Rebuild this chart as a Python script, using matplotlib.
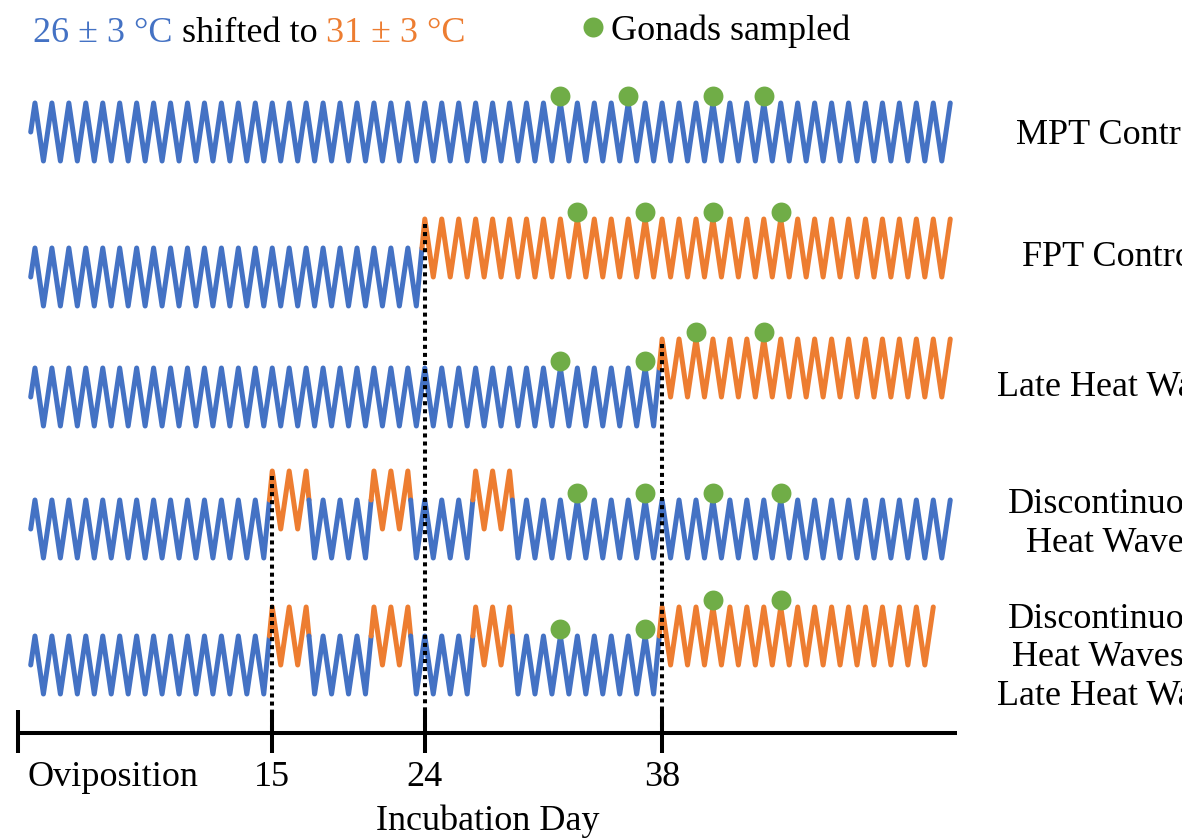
import matplotlib
matplotlib.use("Agg")
import matplotlib.pyplot as plt
from matplotlib.lines import Line2D

# ── Colours / fonts ─────────────────────────────────────────────────────────
BLUE = "#4472C4"
ORANGE = "#ED7D31"
GREEN = "#70AD47"
plt.rcParams["font.family"] = ["Liberation Serif", "DejaVu Serif"]
FS = 26

# ── Data ────────────────────────────────────────────────────────────────────
treatments = [
    "MPT Control",
    "FPT Control",
    "Late Heat Wave",
    "Discontinuous\nHeat Waves",
    "Discontinuous\nHeat Waves +\nLate Heat Wave",
]
# periods at 31 ± 3 °C, incubation days [start, end)
warm_periods = [
    [],
    [(24, 56)],
    [(38, 56)],
    [(15, 18), (21, 24), (27, 30)],
    [(15, 18), (21, 24), (27, 30), (38, 56)],
]
run_end = [55, 55, 55, 55, 54]
sample_days = [
    [32, 36, 41, 44],
    [33, 37, 41, 45],
    [32, 37, 40, 44],
    [33, 37, 41, 45],
    [32, 37, 41, 45],
]
tick_days = [0, 15, 24, 38]
tick_labels = ["Oviposition", "15", "24", "38"]
shift_days = [15, 24, 38]

# ── Layout (axes y units are pixels from top) ───────────────────────────────
ROW_MID = [132, 277, 397, 529, 665]
LABEL_Y = [135, 258, 388, 524, 658]
AMP = 29
AXIS_Y = 733
AXIS_END = 55.4
LW = 3.6


def is_warm(row, t):
    return any(s <= t <= e - 1 for s, e in warm_periods[row])


def zigzag(row):
    """Return list of (xs, ys, colour) polylines for one treatment row."""
    mid = ROW_MID[row]
    verts = [(0.75, 0.0, False)]
    t = 1.0
    while t <= run_end[row] + 1e-9:
        warm = is_warm(row, t)
        lvl = (AMP if t % 1 == 0 else -AMP) + (AMP if warm else 0)
        verts.append((t, lvl, warm))
        t += 0.5
    lines = []
    xs, ys, cur = [verts[0][0]], [mid - verts[0][1]], verts[0][2]
    for (t0, l0, w0), (t1, l1, w1) in zip(verts[:-1], verts[1:]):
        if w1 != cur:
            # split where the stroke crosses the top of the 26 °C band
            f = (AMP - l0) / (l1 - l0)
            ts = t0 + f * (t1 - t0)
            xs.append(ts)
            ys.append(mid - AMP)
            lines.append((xs, ys, ORANGE if cur else BLUE))
            xs, ys, cur = [ts], [mid - AMP], w1
        xs.append(t1)
        ys.append(mid - l1)
    lines.append((xs, ys, ORANGE if cur else BLUE))
    return lines


fig = plt.figure(figsize=(11.82, 8.4), dpi=100)
ax = fig.add_axes([0, 0, 1, 1])
px0, pxd = 18, 16.95
ax.set_xlim(-px0 / pxd, (1182 - px0) / pxd)
ax.set_ylim(840, 0)
ax.axis("off")

for r in range(len(treatments)):
    for xs, ys, c in zigzag(r):
        ax.plot(xs, ys, color=c, lw=LW, solid_joinstyle="round",
                solid_capstyle="round", zorder=2)
    # gonad sampling dots sit on top of the daily peaks
    dy = [ROW_MID[r] - AMP - (AMP if is_warm(r, d) else 0) - 7
          for d in sample_days[r]]
    ax.scatter(sample_days[r], dy, s=205, color=GREEN, zorder=4,
               linewidths=0)
    # labels run off the right edge, as in the original figure
    ax.text((1112 - px0) / pxd, LABEL_Y[r], treatments[r], ha="center",
            va="center", fontsize=FS, linespacing=1.22, color="black")

# dotted lines marking the temperature shifts
for d in shift_days:
    rows = [r for r in range(len(treatments))
            if any(s == d for s, _ in warm_periods[r])]
    top = ROW_MID[rows[0]] - 2 * AMP + 5
    ax.vlines(d, top, AXIS_Y, colors="black", lw=2.9,
              linestyles=(0, (1, 1)), zorder=3)

# ── Incubation axis ─────────────────────────────────────────────────────────
ax.hlines(AXIS_Y, 0, AXIS_END, colors="black", lw=2.9, zorder=3)
ax.vlines(tick_days, AXIS_Y - 23, AXIS_Y + 20, colors="black", lw=2.9,
          zorder=3)
for d, lab in zip(tick_days, tick_labels):
    if d == 0:
        ax.annotate(lab, xy=(d, 778), xytext=(7, 0),
                    textcoords="offset points", ha="left", va="center",
                    fontsize=FS)
    else:
        ax.text(d, 778, lab, ha="center", va="center", fontsize=FS)
ax.text(AXIS_END / 2, 821, "Incubation Day", ha="center", va="center",
        fontsize=FS)

# ── Header: temperature key + sampling legend ──────────────────────────────
t1 = fig.text(33 / 1182, 1 - 42 / 840, "26 ± 3 °C", color=BLUE,
              fontsize=FS, va="baseline", ha="left")
t2 = ax.annotate("shifted to", xy=(1, 0), xycoords=t1, xytext=(6.5, 0),
                 textcoords="offset points", va="bottom", ha="left",
                 fontsize=FS, color="black")
ax.annotate("31 ± 3 °C", xy=(1, 0), xycoords=t2, xytext=(6.5, 0),
            textcoords="offset points", va="bottom", ha="left",
            fontsize=FS, color=ORANGE)

handle = Line2D([], [], marker="o", ls="none", color=GREEN,
                markersize=14.4, markeredgewidth=0)
fig.legend(handles=[handle], labels=["Gonads sampled"], loc="center left",
           bbox_to_anchor=(582 / 1182, 1 - 31 / 840), frameon=False,
           fontsize=FS, handlelength=0.6, handletextpad=0.2,
           borderpad=0, borderaxespad=0)

fig.savefig("out.png", dpi=100)
